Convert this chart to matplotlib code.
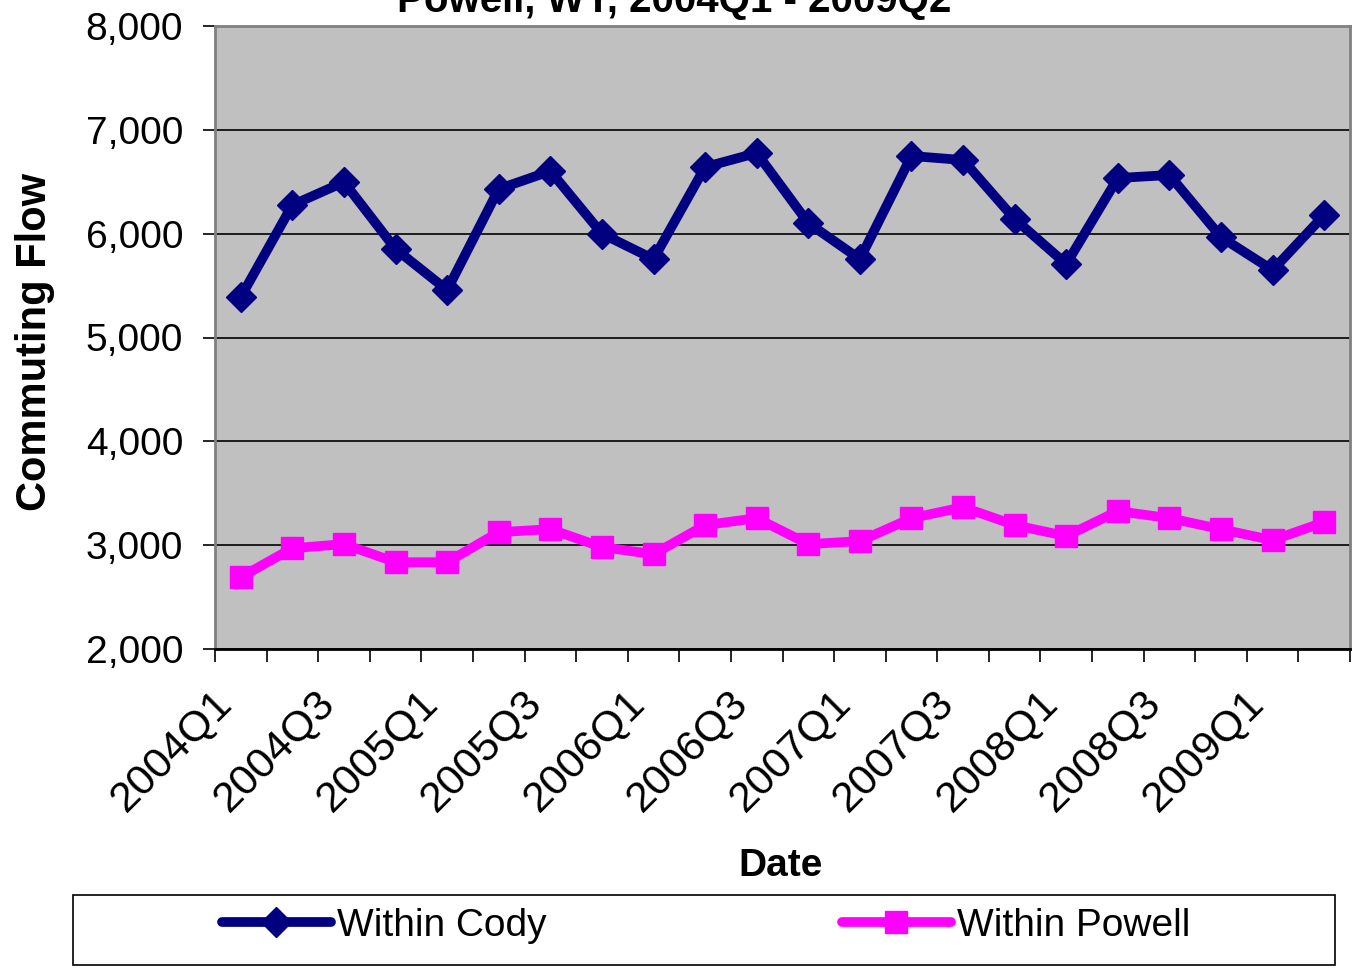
import matplotlib
matplotlib.use("Agg")
import matplotlib.pyplot as plt
from matplotlib.patches import Rectangle
from matplotlib.ticker import FuncFormatter, FixedLocator
from matplotlib.transforms import ScaledTranslation
import numpy as np

plt.rcParams['font.family'] = ['Liberation Sans', 'DejaVu Sans']

quarters = ["2004Q1", "2004Q2", "2004Q3", "2004Q4",
            "2005Q1", "2005Q2", "2005Q3", "2005Q4",
            "2006Q1", "2006Q2", "2006Q3", "2006Q4",
            "2007Q1", "2007Q2", "2007Q3", "2007Q4",
            "2008Q1", "2008Q2", "2008Q3", "2008Q4",
            "2009Q1", "2009Q2"]
within_cody = [5390, 6276, 6497, 5852, 5457, 6430, 6603, 6000, 5755, 6642, 6777,
               6102, 5755, 6748, 6709, 6141, 5707, 6536, 6565, 5967, 5649, 6179]
within_powell = [2692, 2971, 3010, 2836, 2836, 3125, 3154, 2981, 2913, 3193, 3260,
                 3010, 3039, 3260, 3366, 3193, 3087, 3328, 3260, 3154, 3048, 3222]
title_text = "Powell, WY, 2004Q1 - 2009Q2"

W, H = 1352, 973
fig = plt.figure(figsize=(W / 100, H / 100), dpi=100)
ax = fig.add_axes([215 / W, 1 - 649 / H, (1350 - 215) / W, (649 - 26) / H])
ax.set_facecolor('#C0C0C0')

x = np.arange(len(quarters))
ax.plot(x, within_cody, color='#000080', lw=7, marker='D', markersize=15,
        solid_capstyle='round', solid_joinstyle='round', label='Within Cody', zorder=3)
ax.plot(x, within_powell, color='#FF00FF', lw=7, marker='s', markersize=16,
        solid_capstyle='round', solid_joinstyle='round', label='Within Powell', zorder=3)

ax.set_xlim(-0.5, len(quarters) - 0.5)
ax.set_ylim(2000, 8000)
ax.set_yticks(np.arange(2000, 8001, 1000))
ax.yaxis.set_major_formatter(FuncFormatter(lambda v, p: f"{int(v):,}"))
ax.grid(axis='y', color='black', lw=1.2, zorder=1)
ax.set_axisbelow(True)

# x ticks at category boundaries, labels every other category
ax.xaxis.set_major_locator(FixedLocator(np.arange(-0.5, len(quarters), 1.0)))
ax.set_xticklabels([])
ax.xaxis.set_minor_locator(FixedLocator(x[::2]))
ax.set_xticklabels([quarters[i] for i in x[::2]], minor=True, rotation=45,
                   ha='right', va='center', rotation_mode='anchor', fontsize=31)
ax.tick_params(axis='x', which='minor', length=0, pad=34)
ax.tick_params(axis='x', which='major', length=9, width=1.2, color='black')
ax.tick_params(axis='y', length=9, width=1.2, labelsize=28, pad=14)
shift = ScaledTranslation(-15 / 100, 0, fig.dpi_scale_trans)
for lab in ax.get_xticklabels(minor=True):
    lab.set_transform(lab.get_transform() + shift)

for s in ['top', 'right', 'left']:
    ax.spines[s].set_color('#808080')
    ax.spines[s].set_linewidth(2)
ax.spines['bottom'].set_color('black')
ax.spines['bottom'].set_linewidth(2)

fig.text(35 / W, 1 - 342 / H, 'Commuting Flow', rotation=90, fontsize=30,
         fontweight='bold', ha='center', va='center')
fig.text(781 / W, 1 - 866 / H, 'Date', fontsize=28, fontweight='bold',
         ha='center', va='center')
fig.text(674 / W, 1 - 12 / H, title_text, fontsize=29, fontweight='bold',
         ha='center', va='baseline')

# legend box
fig.patches.append(Rectangle((73 / W, 1 - 965 / H), (1335 - 73) / W, (965 - 895) / H,
                             transform=fig.transFigure, facecolor='white',
                             edgecolor='black', lw=1.2, zorder=0))
leg = fig.legend(loc='center', bbox_to_anchor=(706 / W, 1 - 926 / H), ncol=2,
                 frameon=False, fontsize=28, handlelength=2.8, handletextpad=0.15,
                 columnspacing=7.6)

fig.savefig('out.png', dpi=100)
